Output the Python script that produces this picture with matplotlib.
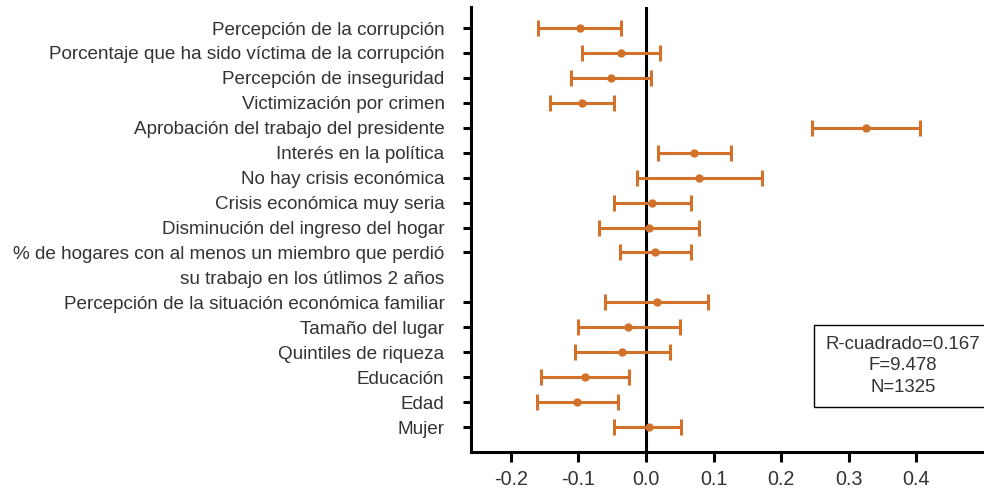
import numpy as np
import matplotlib
matplotlib.use("Agg")
import matplotlib.pyplot as plt

plt.rcParams['font.family'] = ['Liberation Sans', 'DejaVu Sans']

labels = [
    "Percepción de la corrupción",
    "Porcentaje que ha sido víctima de la corrupción",
    "Percepción de inseguridad",
    "Victimización por crimen",
    "Aprobación del trabajo del presidente",
    "Interés en la política",
    "No hay crisis económica",
    "Crisis económica muy seria",
    "Disminución del ingreso del hogar",
    "% de hogares con al menos un miembro que perdió",
    "Percepción de la situación económica familiar",
    "Tamaño del lugar",
    "Quintiles de riqueza",
    "Educación",
    "Edad",
    "Mujer",
]
label_continuation = "su trabajo en los útlimos 2 años"
estimate = [-0.098, -0.037, -0.052, -0.095, 0.326, 0.071, 0.079, 0.009, 0.005, 0.014,
            0.016, -0.026, -0.035, -0.090, -0.102, 0.004]
lower = [-0.160, -0.094, -0.111, -0.142, 0.246, 0.017, -0.014, -0.047, -0.069, -0.038,
         -0.060, -0.100, -0.105, -0.155, -0.162, -0.047]
upper = [-0.037, 0.021, 0.008, -0.047, 0.405, 0.125, 0.172, 0.066, 0.079, 0.066,
         0.092, 0.050, 0.035, -0.025, -0.041, 0.052]
stats_text = "R-cuadrado=0.167\nF=9.478\nN=1325"
xticks = [-0.2, -0.1, 0.0, 0.1, 0.2, 0.3, 0.4]

# positions: one blank row after the two-line label
pos = []
p = 0
for i, lab in enumerate(labels):
    pos.append(p)
    p += 2 if lab.startswith("% de hogares") else 1
pos = np.array(pos, dtype=float)
cont_pos = pos[labels.index("% de hogares con al menos un miembro que perdió")] + 1

est = np.array(estimate)
lo = np.array(lower)
hi = np.array(upper)

fig = plt.figure(figsize=(9.84, 4.95), dpi=100)
ax = fig.add_axes([471/984, 43/495, 1 - 471/984, (452-7)/495])

color = '#D2722A'
ax.errorbar(est, pos, xerr=[est - lo, hi - est], fmt='o', color=color,
            ecolor=color, elinewidth=2.2, capsize=5.8, capthick=2.2,
            markersize=5, zorder=3)

ax.axvline(0, color='black', linewidth=2.2, zorder=2)

ax.set_xlim(-0.2589, 0.5)
ax.set_ylim(17.0, -0.842)

ax.set_yticks(pos)
ax.set_yticklabels(labels)
ax.set_yticks([cont_pos], minor=True)
ax.set_yticklabels([label_continuation], minor=True)
ax.set_xticks(xticks)
ax.set_xticklabels([f"{v:.1f}" for v in xticks])

for s in ['top', 'right']:
    ax.spines[s].set_visible(False)
for s in ['left', 'bottom']:
    ax.spines[s].set_linewidth(2.2)

txtcol = '#333333'
fs = 13.6
ax.tick_params(axis='y', which='major', length=6, width=2.2, pad=13,
               labelsize=fs, labelcolor=txtcol)
ax.tick_params(axis='y', which='minor', length=0, pad=19, labelsize=fs,
               labelcolor=txtcol)
ax.tick_params(axis='x', which='major', length=7, width=2.2, pad=6,
               labelsize=14.2, labelcolor=txtcol)

ax.text(0.3805, 13.55, stats_text, ha='center', va='center',
        fontsize=13.4, color=txtcol, multialignment='center', linespacing=1.32,
        bbox=dict(boxstyle='square,pad=0.62', facecolor='white', edgecolor='black',
                  linewidth=1.0), zorder=4)

fig.savefig('out.png', dpi=100)
